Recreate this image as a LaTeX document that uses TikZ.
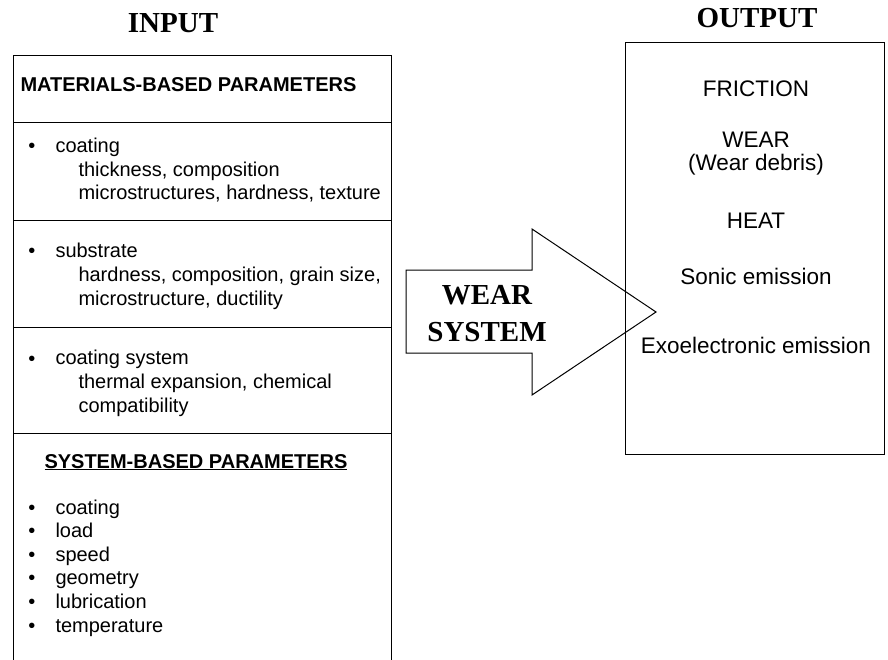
\documentclass[tikz,border=0pt]{standalone}
\usepackage{fontspec}
\setmainfont{Liberation Sans}
\newfontfamily\headfont{Liberation Serif}

\begin{document}
\begin{tikzpicture}[x=1pt,y=-1pt,line width=1pt,
    heading/.style={anchor=base,inner sep=0pt,font=\headfont\bfseries\fontsize{29}{37}\selectfont},
    item/.style={anchor=base west,align=left,inner sep=0pt,font=\fontsize{20}{23.6}\selectfont},
    dot/.style={anchor=base,inner sep=0pt,font=\fontsize{20}{23.6}\selectfont},
    result/.style={anchor=base,align=center,inner sep=0pt,font=\fontsize{22.5}{23}\selectfont}]
  \useasboundingbox (0,0) rectangle (888,660);

  \node[heading] (input) at (173,33) {INPUT};
  \node[heading] (output) at (757,28) {OUTPUT};

  % input table, open at the bottom
  \draw (13,660) -- (13,56) -- (391,56) -- (391,660);
  \foreach \y in {123,221,327,433}
    \draw (13,\y) -- (391,\y);

  \node[item,font=\bfseries\fontsize{20}{20}\selectfont] (matpar) at (20,92) {MATERIALS-BASED PARAMETERS};

  % multi-line items sit on the baseline of their last line
  \node[dot] (b1) at (32,153) {•};
  \node[item] (coat) at (55,200) {coating\\\hspace*{23pt}thickness, composition\\\hspace*{23pt}microstructures, hardness, texture};
  \node[dot] (b2) at (32,258) {•};
  \node[item] (subs) at (55,305) {substrate\\\hspace*{23pt}hardness, composition, grain size,\\\hspace*{23pt}microstructure, ductility};
  \node[dot] (b3) at (32,365) {•};
  \node[item] (csys) at (55,412) {coating system\\\hspace*{23pt}thermal expansion, chemical\\\hspace*{23pt}compatibility};

  \node[dot,font=\bfseries\fontsize{20}{20}\selectfont] (syspar) at (196,468) {\underline{SYSTEM-BASED PARAMETERS}};
  \foreach \t [count=\i] in {coating,load,speed,geometry,lubrication,temperature} {
    \node[dot] (d\i) at (32,490.5+23.6*\i) {•};
    \node[item] (s\i) at (55,490.5+23.6*\i) {\t};
  }

  % output box
  \draw (625,43) rectangle (884,454);
  \node[result] (fric) at (756,97) {FRICTION};
  \node[result] (wear) at (756,171) {WEAR\\(Wear debris)};
  \node[result] (heat) at (756,229) {HEAT};
  \node[result] (sonic) at (756,284) {Sonic emission};
  \node[result] (exo) at (756,353) {Exoelectronic emission};

  % block arrow
  \draw (406,270) -- (532,270) -- (532,229) -- (656,312) -- (532,395) -- (532,353) -- (406,353) -- cycle;
  \node[heading] (wsys) at (487,304) {WEAR};
  \node[heading] (wsys2) at (487,341) {SYSTEM};
\end{tikzpicture}
\end{document}
